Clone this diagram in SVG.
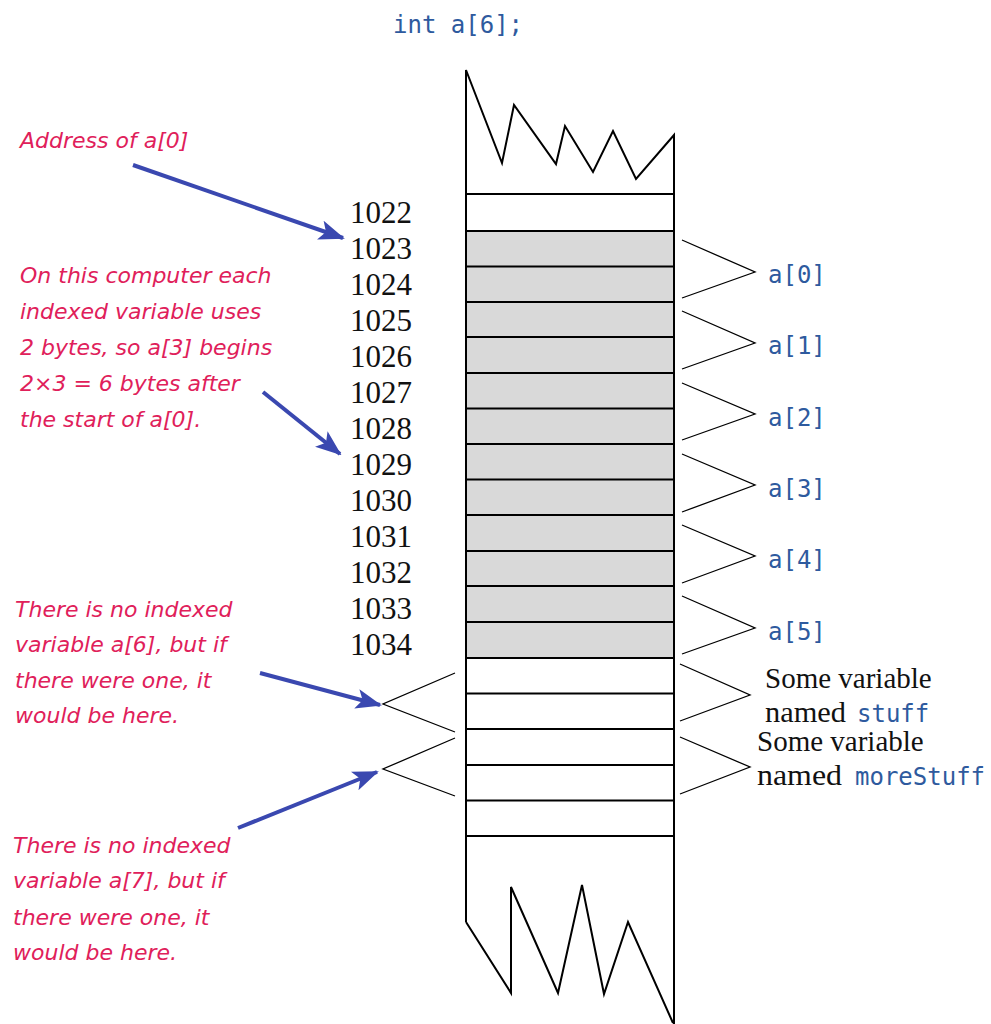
<svg xmlns="http://www.w3.org/2000/svg" width="991" height="1024" viewBox="0 0 991 1024">
<style>
.cell{stroke:#000;stroke-width:2;}
.gray{fill:#d9d9d9;}
.wall{fill:none;stroke:#000;stroke-width:2;stroke-linejoin:miter;}
.brace{fill:none;stroke:#000;stroke-width:1.3;}
.arrow{fill:none;stroke:#3a48b0;stroke-width:4;}
.addr{font-family:"Liberation Serif","Times New Roman",serif;font-size:31px;fill:#111;}
.note{font-family:"DejaVu Sans",sans-serif;font-style:italic;font-size:22px;fill:#e0205a;}
.code{font-family:"DejaVu Sans Mono","Liberation Mono",monospace;font-size:24px;fill:#2e5a9e;}
.serif{font-family:"Liberation Serif","Times New Roman",serif;font-size:29px;fill:#111;}
</style>
<defs>
<marker id="ah" markerUnits="userSpaceOnUse" markerWidth="26" markerHeight="20" refX="24" refY="10" orient="auto">
<path d="M0,0 L26,10 L0,20 L6,10 Z" fill="#3a48b0"/>
</marker>
</defs>
<rect width="991" height="1024" fill="#fff"/>

<g id="declaration">
<text class="code" x="393" y="33" font-size="25.5">int a[6];</text>
</g>

<g id="memory">
<rect class="gray" x="466" y="231" width="208" height="427"/>
<g class="cell">
<line x1="466" y1="194" x2="674" y2="194"/>
<line x1="466" y1="231" x2="674" y2="231"/>
<line x1="466" y1="266.5" x2="674" y2="266.5"/>
<line x1="466" y1="302" x2="674" y2="302"/>
<line x1="466" y1="337" x2="674" y2="337"/>
<line x1="466" y1="373" x2="674" y2="373"/>
<line x1="466" y1="408.5" x2="674" y2="408.5"/>
<line x1="466" y1="444" x2="674" y2="444"/>
<line x1="466" y1="479.5" x2="674" y2="479.5"/>
<line x1="466" y1="515" x2="674" y2="515"/>
<line x1="466" y1="551" x2="674" y2="551"/>
<line x1="466" y1="586" x2="674" y2="586"/>
<line x1="466" y1="622" x2="674" y2="622"/>
<line x1="466" y1="658" x2="674" y2="658"/>
<line x1="466" y1="693.5" x2="674" y2="693.5"/>
<line x1="466" y1="729" x2="674" y2="729"/>
<line x1="466" y1="765" x2="674" y2="765"/>
<line x1="466" y1="800.5" x2="674" y2="800.5"/>
<line x1="466" y1="836" x2="674" y2="836"/>
</g>
<polyline class="wall" points="466,922 466,70 502,163 514,105 556,164 565,126 593,172 613,131 636,179 674,135 674,1024"/>
<polyline class="wall" points="466,922 511,993 511,887 558,993 582,885 604,994 628,922 673,1023"/>
</g>

<g id="addresses">
<text class="addr" x="350" y="223">1022</text>
<text class="addr" x="350" y="259">1023</text>
<text class="addr" x="350" y="295">1024</text>
<text class="addr" x="350" y="331">1025</text>
<text class="addr" x="350" y="367">1026</text>
<text class="addr" x="350" y="403">1027</text>
<text class="addr" x="350" y="439">1028</text>
<text class="addr" x="350" y="475">1029</text>
<text class="addr" x="350" y="511">1030</text>
<text class="addr" x="350" y="547">1031</text>
<text class="addr" x="350" y="583">1032</text>
<text class="addr" x="350" y="619">1033</text>
<text class="addr" x="350" y="655">1034</text>
</g>

<g id="element-labels">
<text class="code" x="768" y="283">a[0]</text>
<text class="code" x="768" y="354">a[1]</text>
<text class="code" x="768" y="426">a[2]</text>
<text class="code" x="768" y="497">a[3]</text>
<text class="code" x="768" y="568">a[4]</text>
<text class="code" x="768" y="640">a[5]</text>
</g>

<g id="stuff-label">
<text class="serif" x="765" y="688">Some variable</text>
<text class="serif" x="765" y="722"><tspan textLength="81" lengthAdjust="spacingAndGlyphs">named</tspan><tspan class="code" x="857" font-size="24.5">stuff</tspan></text>
</g>
<g id="morestuff-label">
<text class="serif" x="757" y="751">Some variable</text>
<text class="serif" x="757" y="785"><tspan textLength="85" lengthAdjust="spacingAndGlyphs">named</tspan><tspan class="code" x="855" font-size="24.5">moreStuff</tspan></text>
</g>

<g id="note-address">
<text class="note" x="20" y="148">Address of a[0]</text>
</g>
<g id="note-bytes">
<text class="note" x="20" y="283">On this computer each</text>
<text class="note" x="20" y="319">indexed variable uses</text>
<text class="note" x="20" y="355">2 bytes, so a[3] begins</text>
<text class="note" x="20" y="391">2×3 = 6 bytes after</text>
<text class="note" x="20" y="427">the start of a[0].</text>
</g>
<g id="note-a6">
<text class="note" x="15" y="617">There is no indexed</text>
<text class="note" x="15" y="652">variable a[6], but if</text>
<text class="note" x="15" y="688">there were one, it</text>
<text class="note" x="15" y="723">would be here.</text>
</g>
<g id="note-a7">
<text class="note" x="13" y="853">There is no indexed</text>
<text class="note" x="13" y="888">variable a[7], but if</text>
<text class="note" x="13" y="925">there were one, it</text>
<text class="note" x="13" y="960">would be here.</text>
</g>

<g id="connectors">
<polyline class="brace" points="682,240 755,272 682,298"/>
<polyline class="brace" points="682,311 755,343 682,369"/>
<polyline class="brace" points="682,383 755,414 682,440"/>
<polyline class="brace" points="682,454 755,485 682,512"/>
<polyline class="brace" points="682,525 755,556 682,583"/>
<polyline class="brace" points="682,596 755,628 682,654"/>
<polyline class="brace" points="680,664 750,695 680,721"/>
<polyline class="brace" points="680,737 750,767 680,794"/>
<polyline class="brace" points="455,673 383,704 455,732"/>
<polyline class="brace" points="455,738 383,769 455,796"/>
<line class="arrow" x1="133" y1="165" x2="343" y2="238" marker-end="url(#ah)"/>
<line class="arrow" x1="263" y1="392" x2="340" y2="454" marker-end="url(#ah)"/>
<line class="arrow" x1="260" y1="673" x2="380" y2="705" marker-end="url(#ah)"/>
<line class="arrow" x1="238" y1="828" x2="377" y2="772" marker-end="url(#ah)"/>
</g>
</svg>
